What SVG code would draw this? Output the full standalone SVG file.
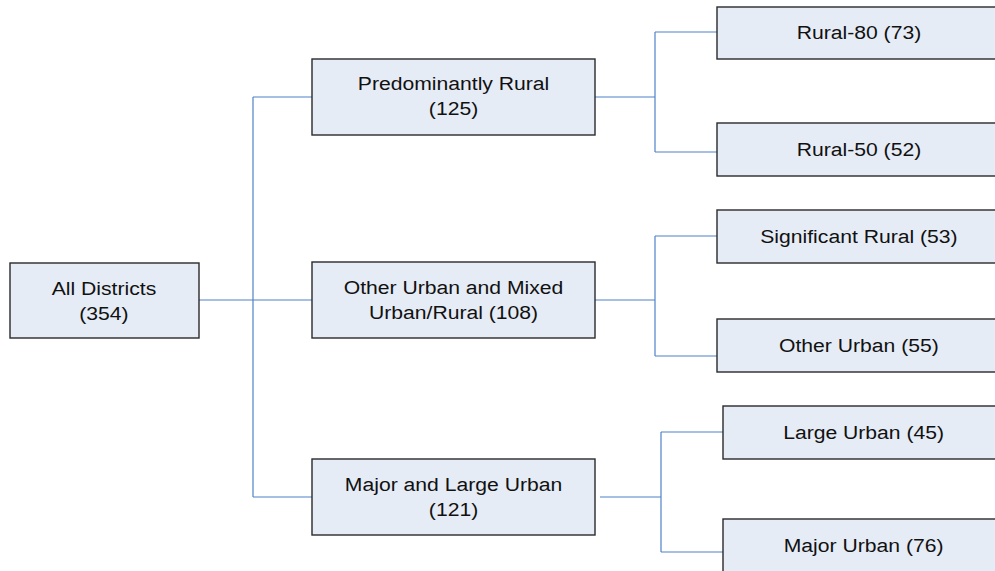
<svg xmlns="http://www.w3.org/2000/svg" width="995" height="571" viewBox="0 0 995 571">
  <style>
    .box { fill: #e6ecf6; stroke: #2a2a2a; stroke-width: 1.4; }
    .link { fill: none; stroke: #4f82c8; stroke-width: 1.2; }
    .lbl { font-family: "Liberation Sans", Arial, sans-serif; font-size: 18px; fill: #111; text-anchor: middle; }
  </style>
  <rect width="995" height="571" fill="#ffffff"/>

  <!-- connectors -->
  <g id="connectors">
    <path class="link" d="M199,300 H312 M253,97 V497 M253,97 H312 M253,497 H312"/>
    <path class="link" d="M595,97 H655 M655,32 V152 M655,32 H717 M655,152 H717"/>
    <path class="link" d="M595,300 H655 M655,236 V356 M655,236 H717 M655,356 H717"/>
    <path class="link" d="M600,497 H661 M661,432 V552 M661,432 H723 M661,552 H723"/>
  </g>

  <!-- labels are stretched horizontally by 1.175 -->
  <g id="all-districts">
    <rect class="box" x="10" y="263" width="189" height="75"/>
    <g transform="scale(1.175 1)"><text class="lbl" x="88.5" y="295">All Districts</text><text class="lbl" x="88.5" y="320">(354)</text></g>
  </g>

  <g id="predominantly-rural">
    <rect class="box" x="312" y="59" width="283" height="76"/>
    <g transform="scale(1.175 1)"><text class="lbl" x="386" y="90.5">Predominantly Rural</text><text class="lbl" x="386" y="115.5">(125)</text></g>
  </g>

  <g id="other-urban-mixed">
    <rect class="box" x="312" y="262" width="283" height="76"/>
    <g transform="scale(1.175 1)"><text class="lbl" x="386" y="294.5">Other Urban and Mixed</text><text class="lbl" x="386" y="319.5">Urban/Rural (108)</text></g>
  </g>

  <g id="major-large-urban">
    <rect class="box" x="312" y="459" width="283" height="76"/>
    <g transform="scale(1.175 1)"><text class="lbl" x="386" y="491.5">Major and Large Urban</text><text class="lbl" x="386" y="516.5">(121)</text></g>
  </g>

  <g id="rural-80">
    <rect class="box" x="717" y="7" width="285" height="52"/>
    <g transform="scale(1.175 1)"><text class="lbl" x="731" y="39">Rural-80 (73)</text></g>
  </g>

  <g id="rural-50">
    <rect class="box" x="717" y="123" width="285" height="53"/>
    <g transform="scale(1.175 1)"><text class="lbl" x="731" y="156">Rural-50 (52)</text></g>
  </g>

  <g id="significant-rural">
    <rect class="box" x="717" y="210" width="285" height="53"/>
    <g transform="scale(1.175 1)"><text class="lbl" x="731" y="243">Significant Rural (53)</text></g>
  </g>

  <g id="other-urban">
    <rect class="box" x="717" y="319" width="285" height="53"/>
    <g transform="scale(1.175 1)"><text class="lbl" x="731" y="352">Other Urban (55)</text></g>
  </g>

  <g id="large-urban">
    <rect class="box" x="723" y="406" width="285" height="53"/>
    <g transform="scale(1.175 1)"><text class="lbl" x="735" y="439">Large Urban (45)</text></g>
  </g>

  <g id="major-urban">
    <rect class="box" x="723" y="519" width="285" height="60"/>
    <g transform="scale(1.175 1)"><text class="lbl" x="735" y="552">Major Urban (76)</text></g>
  </g>
</svg>
